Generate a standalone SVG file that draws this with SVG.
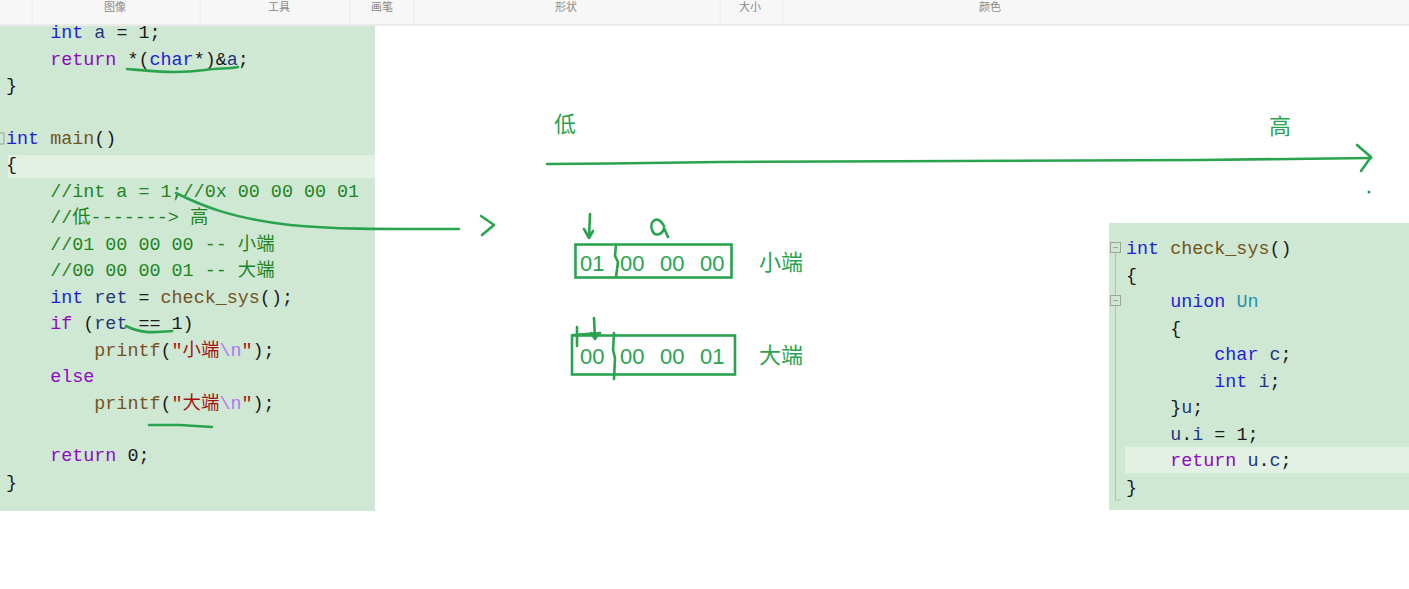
<svg xmlns="http://www.w3.org/2000/svg" width="1409" height="589" viewBox="0 0 1409 589" xml:space="preserve">
<style>
.tb{font-family:"Noto Sans CJK SC","Noto Sans",sans-serif;font-size:11px;fill:#8a8a8a;text-anchor:middle}
.code{font-family:"Liberation Mono","Noto Sans CJK SC",monospace;font-size:18.4px;fill:#1a1a1a;white-space:pre}
.kw{fill:#1f1fd6}
.ct{fill:#8f08c4}
.fn{fill:#74531f}
.id{fill:#1f377f}
.cm{fill:#1e841e}
.st{fill:#a31515}
.es{fill:#b776fb}
.ty{fill:#2b91af}
.ink{fill:none;stroke:#2aa34f;stroke-width:2.6;stroke-linecap:round;stroke-linejoin:round}
.hw{font-family:"Noto Sans CJK SC",sans-serif;font-size:22px;fill:#2aa34f}
.hn{font-family:"Liberation Sans",sans-serif;font-size:22px;fill:#2aa34f}
</style>
<rect x="0" y="0" width="1409" height="589" fill="#ffffff"/>
<g id="toolbar">
<rect x="0" y="0" width="1409" height="25" fill="#f7f7f7"/>
<line x1="0" y1="25" x2="1409" y2="25" stroke="#e6e6e6" stroke-width="1.5"/>
<g stroke="#ececec" stroke-width="1"><line x1="32" y1="0" x2="32" y2="24"/><line x1="200" y1="0" x2="200" y2="24"/><line x1="350" y1="0" x2="350" y2="24"/><line x1="414" y1="0" x2="414" y2="24"/><line x1="720" y1="0" x2="720" y2="24"/><line x1="783" y1="0" x2="783" y2="24"/></g>
<text class="tb" x="115" y="11">图像</text>
<text class="tb" x="279" y="11">工具</text>
<text class="tb" x="382" y="11">画笔</text>
<text class="tb" x="566" y="11">形状</text>
<text class="tb" x="750" y="11">大小</text>
<text class="tb" x="990" y="11">颜色</text>
</g>
<g id="main-code">
<rect x="0" y="26" width="375" height="485" fill="#cfe8d3"/>
<rect x="8" y="155" width="367" height="23" fill="#e2f1e4"/>
<rect x="-5" y="133" width="9" height="11" fill="none" stroke="#9aa59c" stroke-width="1"/>
<text class="code" x="6" y="38">    <tspan class="kw">int</tspan> <tspan class="id">a</tspan> = 1;</text>
<text class="code" x="6" y="64.5">    <tspan class="ct">return</tspan> *(<tspan class="kw">char</tspan>*)&amp;<tspan class="id">a</tspan>;</text>
<text class="code" x="6" y="91">}</text>
<text class="code" x="6" y="143.5"><tspan class="kw">int</tspan> <tspan class="fn">main</tspan>()</text>
<text class="code" x="6" y="170">{</text>
<text class="code cm" x="6" y="196.5">    //int a = 1;//0x 00 00 00 01</text>
<text class="code cm" x="6" y="223">    //低-------&gt; 高</text>
<text class="code cm" x="6" y="249.5">    //01 00 00 00 -- 小端</text>
<text class="code cm" x="6" y="276">    //00 00 00 01 -- 大端</text>
<text class="code" x="6" y="302.5">    <tspan class="kw">int</tspan> <tspan class="id">ret</tspan> = <tspan class="fn">check_sys</tspan>();</text>
<text class="code" x="6" y="329">    <tspan class="ct">if</tspan> (<tspan class="id">ret</tspan> == 1)</text>
<text class="code" x="6" y="355.5">        <tspan class="fn">printf</tspan>(<tspan class="st">"小端</tspan><tspan class="es">\n</tspan><tspan class="st">"</tspan>);</text>
<text class="code" x="6" y="382">    <tspan class="ct">else</tspan></text>
<text class="code" x="6" y="408.5">        <tspan class="fn">printf</tspan>(<tspan class="st">"大端</tspan><tspan class="es">\n</tspan><tspan class="st">"</tspan>);</text>
<text class="code" x="6" y="461">    <tspan class="ct">return</tspan> 0;</text>
<text class="code" x="6" y="487.5">}</text>
</g>
<g id="check-sys-code">
<rect x="1109" y="223" width="300" height="287" fill="#cfe8d3"/>
<rect x="1125" y="447" width="284" height="26" fill="#e2f1e4"/>
<g fill="none" stroke="#9aa59c" stroke-width="1">
<rect x="1110.5" y="242.5" width="10" height="10"/><line x1="1113" y1="247.5" x2="1118" y2="247.5"/>
<rect x="1110.5" y="295.5" width="10" height="10"/><line x1="1113" y1="300.5" x2="1118" y2="300.5"/>
<line x1="1115.5" y1="253" x2="1115.5" y2="295" stroke="#b5bfb6"/>
<line x1="1115.5" y1="306" x2="1115.5" y2="500" stroke="#b5bfb6"/>
<line x1="1115.5" y1="500" x2="1121" y2="500" stroke="#b5bfb6"/>
</g>
<text class="code" x="1126" y="254"><tspan class="kw">int</tspan> <tspan class="fn">check_sys</tspan>()</text>
<text class="code" x="1126" y="280.5">{</text>
<text class="code" x="1126" y="307">    <tspan class="kw">union</tspan> <tspan class="ty">Un</tspan></text>
<text class="code" x="1126" y="333.5">    {</text>
<text class="code" x="1126" y="360">        <tspan class="kw">char</tspan> <tspan class="id">c</tspan>;</text>
<text class="code" x="1126" y="386.5">        <tspan class="kw">int</tspan> <tspan class="id">i</tspan>;</text>
<text class="code" x="1126" y="413">    }<tspan class="id">u</tspan>;</text>
<text class="code" x="1126" y="439.5">    <tspan class="id">u</tspan>.<tspan class="id">i</tspan> = 1;</text>
<text class="code" x="1126" y="466">    <tspan class="ct">return</tspan> <tspan class="id">u</tspan>.<tspan class="id">c</tspan>;</text>
<text class="code" x="1126" y="492.5">}</text>
</g>
<g id="axis">
<path class="ink" d="M547,164 L610,163.5 L720,162 L960,161 L1200,160 L1371,158"/>
<path class="ink" d="M1357,145 L1371,157 L1361,171"/>
<circle cx="1369" cy="192" r="1.5" fill="#2aa34f"/>
<text class="hw" x="554" y="132">低</text>
<text class="hw" x="1269" y="134">高</text>
</g>
<g id="little-endian">
<path class="ink" d="M590,214 L589,238 M584,229 L589,238 L593,231"/>
<path class="ink" d="M664,226 C658,215 649,220 652,230 C655,238 663,234 664,228 L668,237"/>
<rect x="575.5" y="244.5" width="156" height="33" fill="none" stroke="#2aa34f" stroke-width="2.6"/>
<path class="ink" d="M616,245 L615,256 L618,262 L616,277"/>
<text class="hn" x="580" y="271">01</text>
<text class="hn" x="620" y="271">00</text>
<text class="hn" x="660" y="271">00</text>
<text class="hn" x="700" y="271">00</text>
<text class="hw" x="759" y="270">小端</text>
</g>
<g id="big-endian">
<path class="ink" d="M577,327 L577,346 M573,335 L600,333 M594,318 L595,339 M591,333 L595,339 L598,334"/>
<rect x="572" y="335.5" width="163" height="39" fill="none" stroke="#2aa34f" stroke-width="2.6"/>
<path class="ink" d="M614,333 L613,350 L615,358 L614,379"/>
<text class="hn" x="580" y="364">00</text>
<text class="hn" x="620" y="364">00</text>
<text class="hn" x="660" y="364">00</text>
<text class="hn" x="700" y="364">01</text>
<text class="hw" x="759" y="363">大端</text>
</g>
<g id="connectors">
<path class="ink" d="M176,193 C200,205 230,218 290,225 C340,230 400,229 459,229" stroke-width="2"/>
<path class="ink" d="M481,216 L494,225 L482,235" stroke-width="2.2"/>
<path class="ink" d="M127,69 C150,71 175,74 205,70 C218,68 228,69 238,67" stroke-width="2"/>
<path class="ink" d="M126,326 C140,333 150,333 172,331" stroke-width="2"/>
<path class="ink" d="M149,425 L180,425 L212,427" stroke-width="2"/>
</g>
</svg>
